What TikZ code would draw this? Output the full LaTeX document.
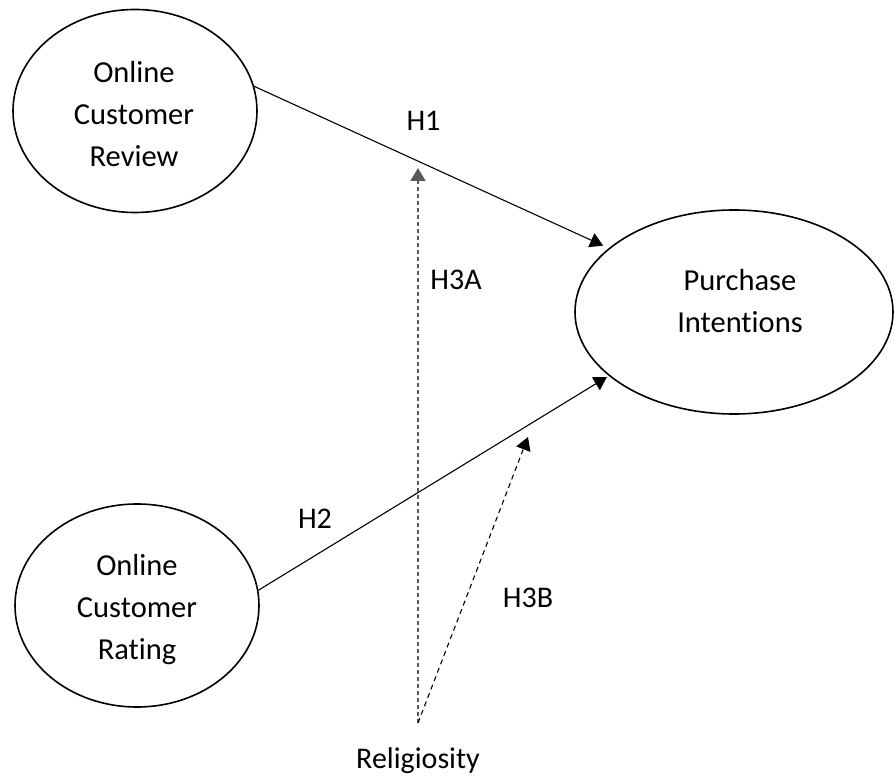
\documentclass[tikz,border=0pt]{standalone}
\usepackage{fontspec}
\setmainfont{Carlito}[Ligatures=NoCommon]
\usetikzlibrary{arrows.meta,shapes.geometric}

\begin{document}
\begin{tikzpicture}[x=1pt,y=-1pt,
  construct/.style={ellipse,draw,line width=1.6pt,inner sep=0pt,outer sep=0pt},
  txt/.style={align=center,inner sep=0pt,font=\fontsize{30.5}{42}\selectfont},
  lbl/.style={inner sep=0pt,font=\fontsize{30}{42}\selectfont},
  effect/.style={line width=1.1pt,-{Triangle[length=13pt,width=15pt]}},
  modvert/.style={line width=2pt,draw=black!65,dash pattern=on 4pt off 3pt,
                  -{Triangle[length=13pt,width=15pt]}},
  moddiag/.style={line width=1.1pt,dash pattern=on 5pt off 4pt,
                  -{Triangle[length=13pt,width=15pt]}}]
\useasboundingbox (0,0) rectangle (895,778);

% constructs
\node[construct,minimum width=244pt,minimum height=203pt] (rev) at (135,111) {};
\node[construct,minimum width=244pt,minimum height=203pt] (rat) at (137,605.5) {};
\node[construct,minimum width=318pt,minimum height=204pt] (pi) at (734,312) {};

\node[txt] (revt) at (134,114) {Online\\Customer\\Review};
\node[txt] (ratt) at (137,610) {Online\\Customer\\Rating};
\node[txt] (pit) at (740,301) {Purchase\\Intentions};

% moderator
\node[lbl,anchor=base] (rel) at (418,768) {Religiosity};
\coordinate (relsrc) at (418,723);
\coordinate (onh1) at (418,168);
\coordinate (onh2) at (528,437);

% direct effects
\draw[effect,shorten >=7pt] (rev.12.5) -- (pi.153);
\draw[effect,shorten >=3pt] (rat.7.8) -- (pi.207.5);

% moderating effects
\draw[modvert] (relsrc) -- (onh1);
\draw[moddiag] (relsrc) -- (onh2);

% hypothesis labels
\node[lbl] (h1) at (423.5,121) {H1};
\node[lbl] (h2) at (315,519) {H2};
\node[lbl] (h3a) at (456,280) {H3A};
\node[lbl] (h3b) at (528,598) {H3B};
\end{tikzpicture}
\end{document}
